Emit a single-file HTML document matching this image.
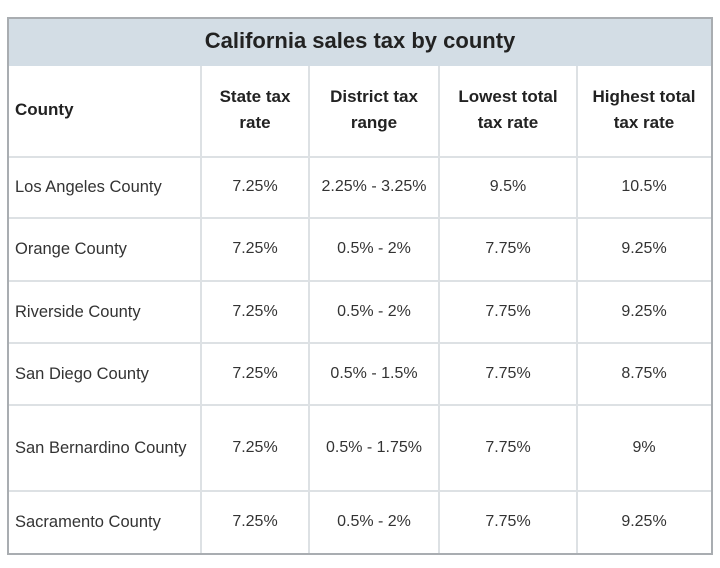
<!DOCTYPE html>
<html><head><meta charset="utf-8"><style>
html,body{margin:0;padding:0;background:#fff;width:720px;height:568px;overflow:hidden;}
body{position:relative;font-family:"Liberation Sans",sans-serif;color:#2b2b2b;}
.box{position:absolute;left:7px;top:17px;width:702px;height:534px;border:2px solid #a9adb1;}
.band{position:absolute;left:9px;top:19px;width:702px;height:47px;background:#d3dde5;}
.v{position:absolute;top:66px;width:2px;height:487px;background:#dde1e4;}
.h{position:absolute;left:9px;width:702px;height:2px;background:#dde1e4;}
.t{position:absolute;white-space:nowrap;}
.title{left:9px;width:702px;top:28px;text-align:center;font-weight:bold;font-size:22px;line-height:26px;color:#222;}
.hd{font-weight:bold;font-size:17px;line-height:26px;text-align:center;color:#222;}
.c{font-size:16px;line-height:20px;text-align:center;color:#333;}
.l{font-size:16.5px;line-height:20px;left:15px;color:#333;}
</style></head><body>
<div class="band"></div>
<div class="box"></div>
<div class="t title">California sales tax by county</div>

<div class="v" style="left:200px"></div>
<div class="v" style="left:308px"></div>
<div class="v" style="left:438px"></div>
<div class="v" style="left:576px"></div>

<div class="h" style="top:156px"></div>
<div class="h" style="top:217px"></div>
<div class="h" style="top:280px"></div>
<div class="h" style="top:342px"></div>
<div class="h" style="top:404px"></div>
<div class="h" style="top:490px"></div>

<div class="t hd" style="left:15px;top:97px;text-align:left">County</div>
<div class="t hd" style="left:201px;width:108px;top:84px">State tax<br>rate</div>
<div class="t hd" style="left:309px;width:130px;top:84px">District tax<br>range</div>
<div class="t hd" style="left:439px;width:138px;top:84px">Lowest total<br>tax rate</div>
<div class="t hd" style="left:577px;width:134px;top:84px">Highest total<br>tax rate</div>

<!-- rows: centers 187,249,312,374,448,522 -->
<div class="t l" style="top:177px">Los Angeles County</div>
<div class="t c" style="left:201px;width:108px;top:177px">7.25%</div>
<div class="t c" style="left:309px;width:130px;top:177px">2.25% - 3.25%</div>
<div class="t c" style="left:439px;width:138px;top:177px">9.5%</div>
<div class="t c" style="left:577px;width:134px;top:177px">10.5%</div>

<div class="t l" style="top:239px">Orange County</div>
<div class="t c" style="left:201px;width:108px;top:239px">7.25%</div>
<div class="t c" style="left:309px;width:130px;top:239px">0.5% - 2%</div>
<div class="t c" style="left:439px;width:138px;top:239px">7.75%</div>
<div class="t c" style="left:577px;width:134px;top:239px">9.25%</div>

<div class="t l" style="top:302px">Riverside County</div>
<div class="t c" style="left:201px;width:108px;top:302px">7.25%</div>
<div class="t c" style="left:309px;width:130px;top:302px">0.5% - 2%</div>
<div class="t c" style="left:439px;width:138px;top:302px">7.75%</div>
<div class="t c" style="left:577px;width:134px;top:302px">9.25%</div>

<div class="t l" style="top:364px">San Diego County</div>
<div class="t c" style="left:201px;width:108px;top:364px">7.25%</div>
<div class="t c" style="left:309px;width:130px;top:364px">0.5% - 1.5%</div>
<div class="t c" style="left:439px;width:138px;top:364px">7.75%</div>
<div class="t c" style="left:577px;width:134px;top:364px">8.75%</div>

<div class="t l" style="top:438px">San Bernardino County</div>
<div class="t c" style="left:201px;width:108px;top:438px">7.25%</div>
<div class="t c" style="left:309px;width:130px;top:438px">0.5% - 1.75%</div>
<div class="t c" style="left:439px;width:138px;top:438px">7.75%</div>
<div class="t c" style="left:577px;width:134px;top:438px">9%</div>

<div class="t l" style="top:512px">Sacramento County</div>
<div class="t c" style="left:201px;width:108px;top:512px">7.25%</div>
<div class="t c" style="left:309px;width:130px;top:512px">0.5% - 2%</div>
<div class="t c" style="left:439px;width:138px;top:512px">7.75%</div>
<div class="t c" style="left:577px;width:134px;top:512px">9.25%</div>
</body></html>
